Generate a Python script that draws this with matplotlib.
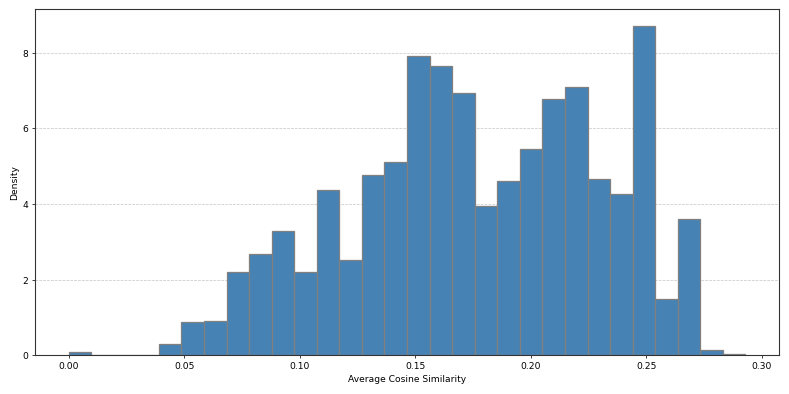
import numpy as np
import matplotlib
matplotlib.use("Agg")
import matplotlib.pyplot as plt

# histogram: 30 bins between min and max similarity
sim_min = 0.0
sim_max = 0.293
n_bins = 30
density = [0.10, 0.0, 0.0, 0.0, 0.31, 0.88, 0.92, 2.21, 2.67, 3.28,
           2.21, 4.36, 2.51, 4.77, 5.12, 7.90, 7.64, 6.92, 3.95, 4.61,
           5.44, 6.77, 7.08, 4.66, 4.26, 8.71, 1.49, 3.59, 0.15, 0.04]

edges = np.linspace(sim_min, sim_max, n_bins + 1)

fig, ax = plt.subplots(figsize=(12, 6), dpi=65.75)
ax.bar(edges[:-1], density, width=np.diff(edges), align="edge",
       color="steelblue", edgecolor="gray", linewidth=1.4)
ax.set_xlabel("Average Cosine Similarity")
ax.set_ylabel("Density")
ax.grid(axis="y", linestyle="--", alpha=0.7)
ax.set_axisbelow(True)
for sp in ax.spines.values():
    sp.set_color("#333333")
    sp.set_linewidth(1.2)

fig.subplots_adjust(left=0.044, right=0.9877, top=0.9754, bottom=0.098)
fig.savefig("out.png", dpi=65.75)
